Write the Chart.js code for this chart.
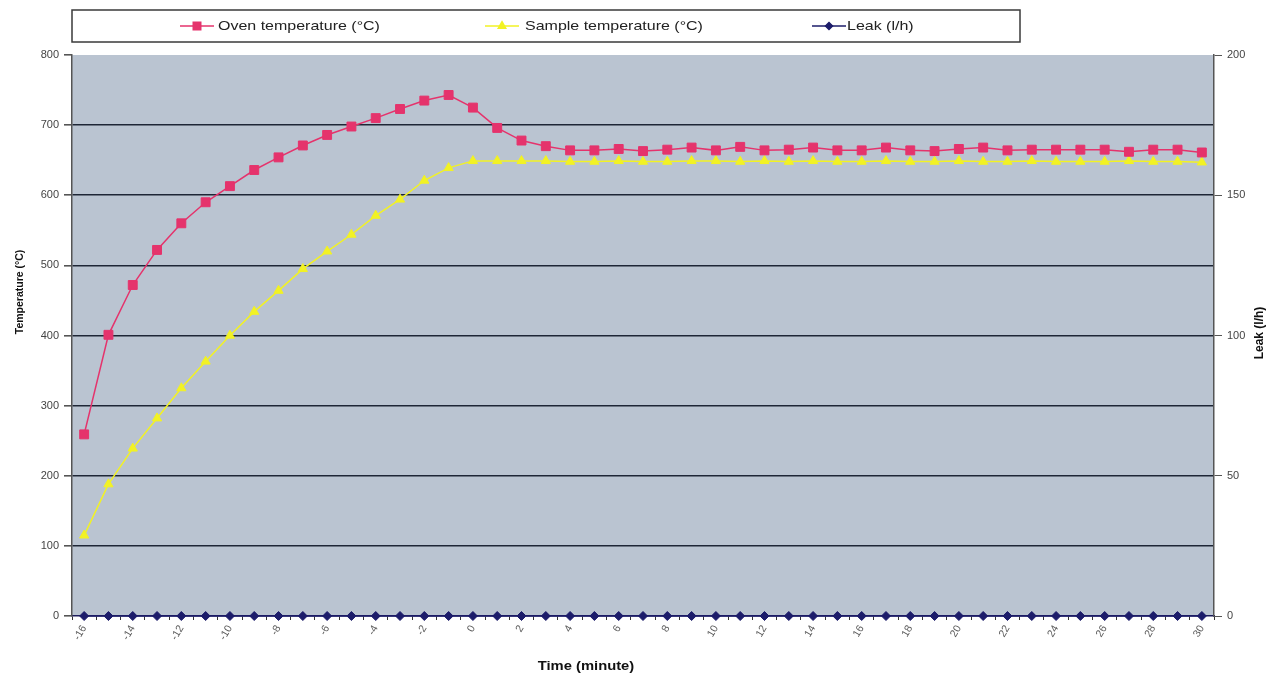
<!DOCTYPE html>
<html>
<head>
<meta charset="utf-8">
<title>Oven / sample temperature and leak</title>
<script src="https://cdn.jsdelivr.net/npm/chart.js"></script>
<style>
  html, body { margin: 0; padding: 0; background: #ffffff; }
  #wrap { width: 1274px; height: 680px; position: relative; }
</style>
</head>
<body>
<div id="wrap"><canvas id="tempChart"></canvas></div>
<script>
// time axis (minutes)
var Minutes = [-16, -15, -14, -13, -12, -11, -10, -9, -8, -7, -6, -5, -4, -3, -2, -1,
    0, 1, 2, 3, 4, 5, 6, 7, 8, 9, 10, 11, 12, 13, 14, 15, 16, 17, 18, 19, 20,
    21, 22, 23, 24, 25, 26, 27, 28, 29, 30];

// Oven temperature (°C)
var OvenTemp = [259, 401, 472, 522, 560, 590, 613, 636, 654, 671, 686, 698, 710, 723, 735, 743,
    725, 696, 678, 670, 664, 664, 666, 663, 665, 668, 664, 669, 664, 665, 668, 664, 664,
    668, 664, 663, 666, 668, 664, 665, 665, 665, 665, 662, 665, 665, 661];

// Sample temperature (°C)
var SampleTemp = [115, 188, 239, 282, 325, 363, 400, 434, 464, 495, 520, 544, 571, 594, 621, 639,
    649, 649, 649, 649, 648, 648, 649, 648, 648, 649, 649, 648, 649, 648, 649, 648, 648,
    649, 648, 648, 649, 648, 648, 649, 648, 648, 648, 649, 648, 648, 647];

// Leak (l/h)
var Leak = [0, 0, 0, 0, 0, 0, 0, 0, 0, 0, 0, 0, 0, 0, 0, 0,
    0, 0, 0, 0, 0, 0, 0, 0, 0, 0, 0, 0, 0, 0, 0, 0, 0,
    0, 0, 0, 0, 0, 0, 0, 0, 0, 0, 0, 0, 0, 0];

var TempTicks = [0, 100, 200, 300, 400, 500, 600, 700, 800];
var LeakTicks = [0, 50, 100, 150, 200];

var SeriesNames = ['Oven temperature (°C)', 'Sample temperature (°C)', 'Leak (l/h)'];
var XTitle = 'Time (minute)';
var YTitle = 'Temperature (°C)';
var Y2Title = 'Leak (l/h)';

var _Font = '"Liberation Sans", Arial, sans-serif';
var _PlotBack = '#bac4d1';
var _GridColor = '#1e2636';
var _Stretch = 1.23;   // текст в оригинале слегка растянут по горизонтали

function drawStretchedText(ctx, text, x, y, align) {
    ctx.save();
    ctx.translate(x, y);
    ctx.scale(_Stretch, 1);
    ctx.textAlign = align;
    ctx.fillText(text, 0, 0);
    ctx.restore();
}

// фон области построения, рамка легенды и подписи осей
var decorPlugin = {
    id: 'decor',
    beforeDraw: function (chart) {
        var a = chart.chartArea, ctx = chart.ctx;
        ctx.save();
        ctx.fillStyle = _PlotBack;
        ctx.fillRect(a.left, a.top, a.right - a.left, a.bottom - a.top);
        ctx.restore();
    },
    afterDraw: function (chart) {
        var ctx = chart.ctx;
        ctx.save();

        // legend box
        ctx.fillStyle = '#ffffff';
        ctx.fillRect(72, 10, 948, 32);
        ctx.strokeStyle = '#3a3a3a';
        ctx.lineWidth = 1.5;
        ctx.strokeRect(72, 10, 948, 32);

        var lineX = [180, 485, 812];
        var textX = [218, 525, 847];
        var ly = 26;
        chart.data.datasets.forEach(function (ds, i) {
            var x0 = lineX[i];
            ctx.strokeStyle = ds.borderColor;
            ctx.lineWidth = 1.5;
            ctx.beginPath();
            ctx.moveTo(x0, ly);
            ctx.lineTo(x0 + 34, ly);
            ctx.stroke();
            ctx.fillStyle = ds.pointBackgroundColor;
            ctx.strokeStyle = ds.pointBackgroundColor;
            if (Chart.helpers && Chart.helpers.drawPoint) {
                Chart.helpers.drawPoint(ctx, { pointStyle: ds.pointStyle, radius: ds.pointRadius - 1, rotation: 0, borderWidth: 1 }, x0 + 17, ly);
            } else {
                ctx.fillRect(x0 + 13, ly - 4, 8, 8);
            }
            ctx.fillStyle = '#222222';
            ctx.font = '13px ' + _Font;
            ctx.textBaseline = 'middle';
            drawStretchedText(ctx, ds.label, textX[i], ly, 'left');
        });

        // axis titles
        ctx.fillStyle = '#111111';
        ctx.textBaseline = 'middle';
        ctx.font = 'bold 12px ' + _Font;
        drawStretchedText(ctx, XTitle, 586, 667, 'center');

        ctx.textAlign = 'center';
        ctx.font = 'bold 10.5px ' + _Font;
        ctx.save();
        ctx.translate(20, 292);
        ctx.rotate(-Math.PI / 2);
        ctx.fillText(YTitle, 0, 0);
        ctx.restore();

        ctx.font = 'bold 12px ' + _Font;
        ctx.save();
        ctx.translate(1260, 333);
        ctx.rotate(-Math.PI / 2);
        ctx.fillText(Y2Title, 0, 0);
        ctx.restore();

        ctx.restore();
    }
};

function getLineDataset(_label, _color, _pointstyle, _radius, _data, _axis) {
    return {
        label: _label,
        data: _data,
        yAxisID: _axis,
        borderColor: _color,
        backgroundColor: _color,
        pointBackgroundColor: _color,
        pointBorderColor: _color,
        pointStyle: _pointstyle,
        pointRadius: _radius,
        pointBorderWidth: 1,
        borderWidth: 1.5,
        tension: 0,
        fill: false
    };
}

var ctx = document.getElementById('tempChart');
var TempChart = new Chart(ctx, {
    type: 'line',
    data: {
        labels: Minutes,
        datasets: [
            getLineDataset(SeriesNames[0], '#e5336c', 'rect', 6.3, OvenTemp, 'y'),
            getLineDataset(SeriesNames[1], '#f2f224', 'triangle', 5.3, SampleTemp, 'y'),
            getLineDataset(SeriesNames[2], '#1c1c6a', 'rectRot', 4.5, Leak, 'y2')
        ]
    },
    options: {
        responsive: true,
        maintainAspectRatio: false,
        animation: false,
        clip: false,
        layout: { padding: { top: 55, left: 0, right: 0, bottom: 0 } },
        plugins: {
            legend: { display: false },
            tooltip: { enabled: false }
        },
        scales: {
            x: {
                type: 'category',
                offset: true,
                afterFit: function (scale) { scale.height = 64; },
                grid: {
                    drawOnChartArea: false,
                    drawTicks: true,
                    tickLength: 4,
                    color: '#333333',
                    offset: true
                },
                border: { display: true, color: '#1c1c5a', width: 1.5 },
                ticks: {
                    autoSkip: false,
                    minRotation: 60,
                    maxRotation: 60,
                    padding: 3,
                    color: '#5a5a5a',
                    font: { family: _Font, size: 10.5 },
                    callback: function (value, index) {
                        var v = Minutes[index];
                        return (v % 2 === 0) ? String(v) : '';
                    }
                }
            },
            y: {
                position: 'left',
                min: 0,
                max: 800,
                afterFit: function (scale) { scale.width = 72; },
                afterBuildTicks: function (scale) {
                    scale.ticks = TempTicks.map(function (v) { return { value: v }; });
                },
                grid: {
                    color: function (c) {
                        if (c.tick && (c.tick.value === 0 || c.tick.value === 800)) return 'rgba(0,0,0,0)';
                        return _GridColor;
                    },
                    lineWidth: 1.6,
                    tickColor: '#555555',
                    tickLength: 8
                },
                border: { display: true, color: '#555555', width: 1.5 },
                ticks: {
                    padding: 5,
                    color: '#444444',
                    font: { family: _Font, size: 11 }
                }
            },
            y2: {
                position: 'right',
                min: 0,
                max: 200,
                afterFit: function (scale) { scale.width = 60; },
                afterBuildTicks: function (scale) {
                    scale.ticks = LeakTicks.map(function (v) { return { value: v }; });
                },
                grid: {
                    drawOnChartArea: false,
                    color: '#555555',
                    tickLength: 8
                },
                border: { display: true, color: '#555555', width: 1.5 },
                ticks: {
                    padding: 5,
                    color: '#444444',
                    font: { family: _Font, size: 11 }
                }
            }
        }
    },
    plugins: [decorPlugin]
});
</script>
</body>
</html>
